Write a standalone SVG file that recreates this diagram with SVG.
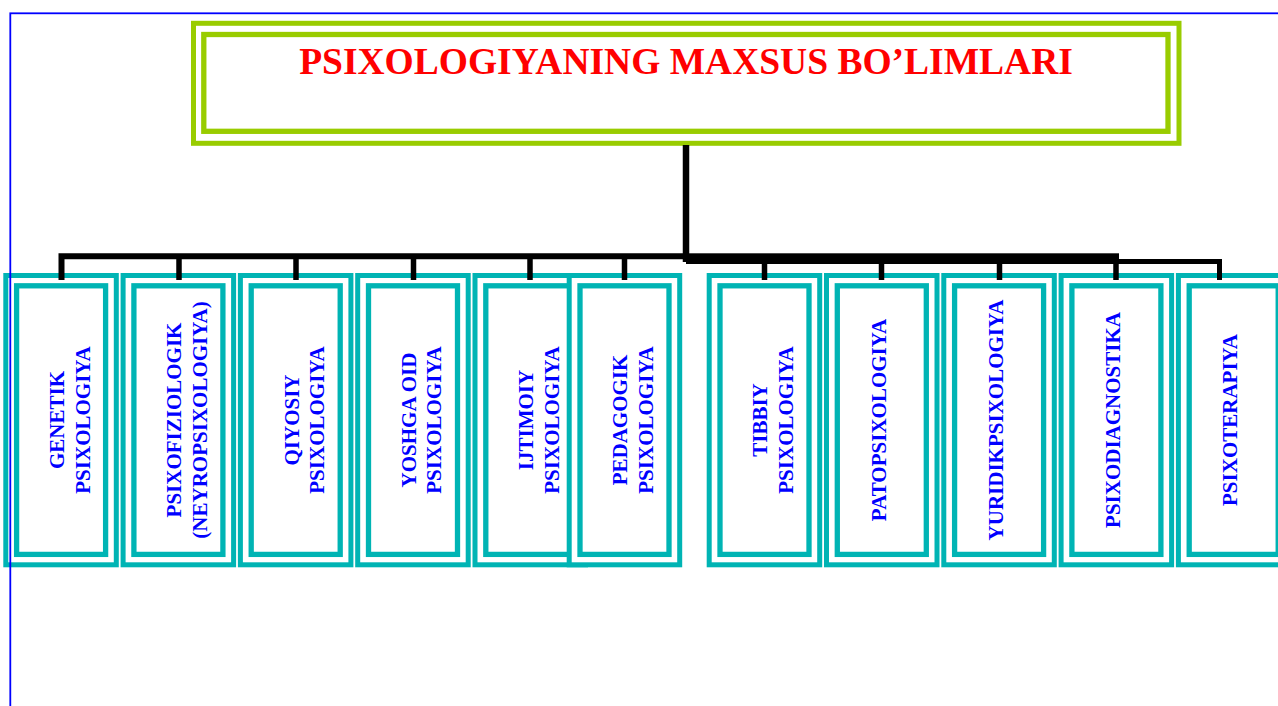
<svg xmlns="http://www.w3.org/2000/svg" xmlns:xlink="http://www.w3.org/1999/xlink" width="1278" height="706" viewBox="0 0 1278 706">
  <style>
    .title { font-family: "Liberation Serif", "Times New Roman", serif; font-weight: bold; font-size: 37.5px; fill: #FF0000; }
    .lbl { font-family: "Liberation Serif", "Times New Roman", serif; font-weight: bold; font-size: 21px; fill: #0000FF; text-anchor: middle; }
    .frame-o { fill: #FFFFFF; stroke: #00B4B4; stroke-width: 5; }
    .frame-i { fill: none; stroke: #00B4B4; stroke-width: 5.3; }
    .wire { fill: none; stroke: #000000; stroke-linejoin: miter; stroke-linecap: butt; }
  </style>
  <defs>
    <!-- double-framed cell used for every branch -->
    <g id="cell">
      <rect class="frame-o" x="2.5" y="275.5" width="110.5" height="289.3"/>
      <rect class="frame-i" x="13.3" y="285.8" width="89" height="268.6"/>
    </g>
  </defs>

  <rect x="0" y="0" width="1278" height="706" fill="#FFFFFF"/>

  <!-- title -->
  <g id="title">
    <rect x="193.5" y="23.3" width="985.5" height="120" fill="#FFFFFF" stroke="#99CC00" stroke-width="5"/>
    <rect x="203.8" y="34.5" width="964.2" height="96.8" fill="none" stroke="#99CC00" stroke-width="5.3"/>
    <text class="title" x="686" y="73.5" text-anchor="middle">PSIXOLOGIYANING MAXSUS BO’LIMLARI</text>
  </g>

  <!-- branches -->
  <g id="n-genetik" transform="translate(3.3,0)">
    <use xlink:href="#cell"/>
    <text class="lbl" transform="translate(60.7,420) rotate(-90)"><tspan x="0" y="0">GENETIK</tspan><tspan x="0" y="25.6">PSIXOLOGIYA</tspan></text>
  </g>
  <g id="n-psixofiziologik" transform="translate(120.6,0)">
    <use xlink:href="#cell"/>
    <text class="lbl" transform="translate(60.7,420) rotate(-90)"><tspan x="0" y="0">PSIXOFIZIOLOGIK</tspan><tspan x="0" y="25.6">(NEYROPSIXOLOGIYA)</tspan></text>
  </g>
  <g id="n-qiyosiy" transform="translate(237.9,0)">
    <use xlink:href="#cell"/>
    <text class="lbl" transform="translate(60.7,420) rotate(-90)"><tspan x="0" y="0">QIYOSIY</tspan><tspan x="0" y="25.6">PSIXOLOGIYA</tspan></text>
  </g>
  <g id="n-yoshga-oid" transform="translate(355.2,0)">
    <use xlink:href="#cell"/>
    <text class="lbl" transform="translate(60.7,420) rotate(-90)"><tspan x="0" y="0">YOSHGA OID</tspan><tspan x="0" y="25.6">PSIXOLOGIYA</tspan></text>
  </g>
  <g id="n-ijtimoiy" transform="translate(472.5,0)">
    <use xlink:href="#cell"/>
    <text class="lbl" transform="translate(60.7,420) rotate(-90)"><tspan x="0" y="0">IJTIMOIY</tspan><tspan x="0" y="25.6">PSIXOLOGIYA</tspan></text>
  </g>
  <g id="n-pedagogik" transform="translate(566.7,0)">
    <use xlink:href="#cell"/>
    <text class="lbl" transform="translate(60.7,420) rotate(-90)"><tspan x="0" y="0">PEDAGOGIK</tspan><tspan x="0" y="25.6">PSIXOLOGIYA</tspan></text>
  </g>
  <g id="n-tibbiy" transform="translate(706.7,0)">
    <use xlink:href="#cell"/>
    <text class="lbl" transform="translate(60.7,420) rotate(-90)"><tspan x="0" y="0">TIBBIY</tspan><tspan x="0" y="25.6">PSIXOLOGIYA</tspan></text>
  </g>
  <g id="n-patopsixologiya" transform="translate(824,0)">
    <use xlink:href="#cell"/>
    <text class="lbl" transform="translate(61.5,420) rotate(-90)">PATOPSIXOLOGIYA</text>
  </g>
  <g id="n-yuridik" transform="translate(941.3,0)">
    <use xlink:href="#cell"/>
    <text class="lbl" transform="translate(61.5,420) rotate(-90)">YURIDIKPSIXOLOGIYA</text>
  </g>
  <g id="n-psixodiagnostika" transform="translate(1058.6,0)">
    <use xlink:href="#cell"/>
    <text class="lbl" transform="translate(61.5,420) rotate(-90)">PSIXODIAGNOSTIKA</text>
  </g>
  <g id="n-psixoterapiya" transform="translate(1175.9,0)">
    <use xlink:href="#cell"/>
    <text class="lbl" transform="translate(61.5,420) rotate(-90)">PSIXOTERAPIYA</text>
  </g>

  <!-- connectors -->
  <g id="connectors">
    <line class="wire" x1="686" y1="145" x2="686" y2="262" stroke-width="6.5"/>
    <polyline class="wire" points="61.5,280 61.5,256.3 686,256.3" stroke-width="6"/>
    <rect x="686" y="253.3" width="433" height="10.7" fill="#000000"/>
    <polyline class="wire" points="1116,261.5 1219.5,261.5 1219.5,280" stroke-width="5"/>
    <g class="wire" stroke-width="5.5">
      <line x1="179" y1="256" x2="179" y2="280"/>
      <line x1="296" y1="256" x2="296" y2="280"/>
      <line x1="413.5" y1="256" x2="413.5" y2="280"/>
      <line x1="530" y1="256" x2="530" y2="280"/>
      <line x1="624.5" y1="256" x2="624.5" y2="280"/>
      <line x1="764.5" y1="258" x2="764.5" y2="280"/>
      <line x1="881.5" y1="258" x2="881.5" y2="280"/>
      <line x1="999.5" y1="258" x2="999.5" y2="280"/>
      <line x1="1116" y1="258" x2="1116" y2="280"/>
    </g>
  </g>

  <!-- page frame -->
  <rect x="10.3" y="13.3" width="1400" height="800" fill="none" stroke="#0000FF" stroke-width="1.8"/>
</svg>
